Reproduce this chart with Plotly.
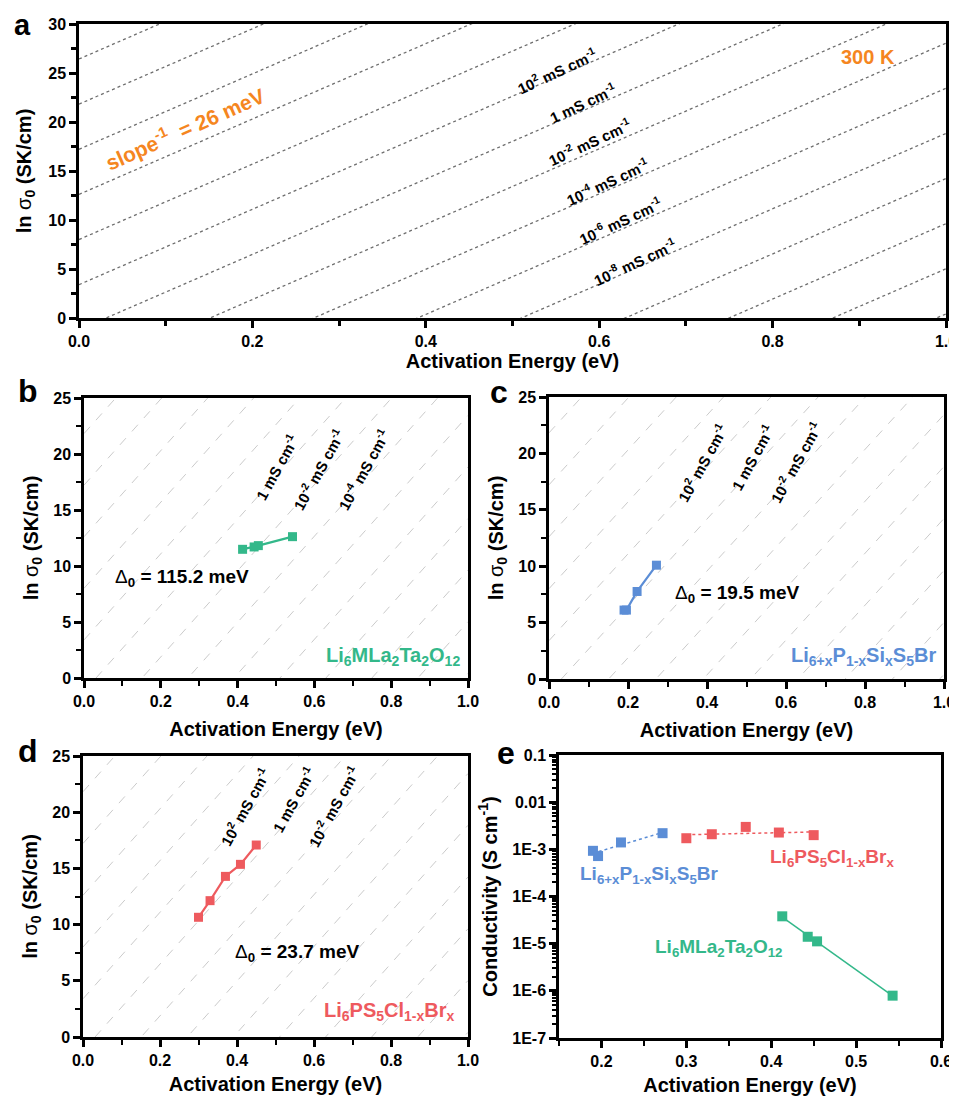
import numpy as np
import plotly.graph_objects as go

# ---------------- data ----------------
# Li6MLa2Ta2O12 (garnet)
ea_llzo = [0.413, 0.443, 0.454, 0.543]
lns0_llzo = [11.49, 11.70, 11.82, 12.62]
sigma_llzo = [3.8e-5, 1.4e-5, 1.12e-5, 7.9e-7]

# Li6+xP1-xSixS5Br
ea_lpssb = [0.190, 0.196, 0.223, 0.272]
lns0_lpssb = [6.11, 6.11, 7.76, 10.09]
sigma_lpssb = [9.3e-4, 7.2e-4, 1.4e-3, 2.2e-3]

# Li6PS5Cl1-xBrx
ea_lpscb = [0.300, 0.330, 0.370, 0.409, 0.450]
lns0_lpscb = [10.65, 12.13, 14.29, 15.36, 17.08]
sigma_lpscb = [1.72e-3, 2.09e-3, 2.99e-3, 2.27e-3, 2.0e-3]

# iso-conductivity lines (exponent of mS/cm), T = 300 K, slope^-1 = 26 meV
iso_exponents = [-16, -14, -12, -10, -8, -6, -4, -2, 0, 2, 4, 6, 8, 10, 12]
temperature = 300.0
kT_eV = 0.026

e_tickvals = [1e-1, 1e-2, 1e-3, 1e-4, 1e-5, 1e-6, 1e-7]
e_ticktext = ["0.1", "0.01", "1E-3", "1E-4", "1E-5", "1E-6", "1E-7"]

# ---------------- colours / fonts ----------------
GREEN = "#33B88A"
BLUE = "#5B8DD6"
RED = "#EE5A5E"
ORANGE = "#F5861F"
FONT = "Liberation Sans, Arial, sans-serif"

# page body has an 8px margin: the figure starts at (8, 8) in the window
OFF = 8
W, H = 957, 1098


def px2paper_x(px):
    return (px - OFF) / W


def px2paper_y(py):
    return 1 - (py - OFF) / H


def iso_intercept(k):
    sigma_S = 10.0 ** k * 1e-3
    return np.log(sigma_S * temperature)


fig = go.Figure()

# ---------- iso lines ----------
panels_iso = [("x", "y", "#6e6e6e", "dot", 1.3),
              ("x2", "y2", "#c4c4c4", "dash", 0.9),
              ("x3", "y3", "#c4c4c4", "dash", 0.9),
              ("x4", "y4", "#c4c4c4", "dash", 0.9)]
for xa, ya, col, dash, lw in panels_iso:
    for k in iso_exponents:
        b = iso_intercept(k)
        xs = [0.0, 1.0]
        ys = [b + x / kT_eV for x in xs]
        fig.add_trace(go.Scatter(x=xs, y=ys, mode="lines", xaxis=xa, yaxis=ya,
                                 line=dict(color=col, width=lw, dash=dash),
                                 showlegend=False, hoverinfo="skip"))

# ---------- panel b, c, d data ----------
for xa, ya, xs, ys, col in [("x2", "y2", ea_llzo, lns0_llzo, GREEN),
                             ("x3", "y3", ea_lpssb, lns0_lpssb, BLUE),
                             ("x4", "y4", ea_lpscb, lns0_lpscb, RED)]:
    fig.add_trace(go.Scatter(x=xs, y=ys, mode="lines+markers", xaxis=xa, yaxis=ya,
                             line=dict(color=col, width=2.2),
                             marker=dict(symbol="square", size=9, color=col),
                             showlegend=False))

# ---------- panel e ----------
for xs, ys, col, dash in [(ea_lpssb, sigma_lpssb, BLUE, "dot"),
                          (ea_lpscb, sigma_lpscb, RED, "dot"),
                          (ea_llzo, sigma_llzo, GREEN, "solid")]:
    p = np.polyfit(xs, np.log10(ys), 1)
    fx = np.array([min(xs), max(xs)])
    fy = 10 ** np.polyval(p, fx)
    fig.add_trace(go.Scatter(x=fx, y=fy, mode="lines", xaxis="x5", yaxis="y5",
                             line=dict(color=col, width=1.5, dash=dash),
                             showlegend=False, hoverinfo="skip"))
    fig.add_trace(go.Scatter(x=xs, y=ys, mode="markers", xaxis="x5", yaxis="y5",
                             marker=dict(symbol="square", size=10, color=col),
                             showlegend=False))

# ---------- axes ----------
tickfont = dict(family=FONT, size=16, color="black", weight="bold")
titlefont = dict(family=FONT, size=20, color="black", weight="bold")


def ax_common():
    return dict(showline=True, linewidth=2.5, linecolor="black", mirror=True,
                ticks="outside", ticklen=7, tickwidth=2.5, tickcolor="black",
                showgrid=False, zeroline=False, tickfont=tickfont, automargin=False,
                ticklabeloverflow="allow")


XTITLE = "Activation Energy (eV)"
YTITLE = "ln <span style='font-weight:normal'>σ</span><sub>0</sub> (SK/cm)"

domains = {
    "a": ([79, 946], [24, 318]),
    "b": ([84, 468], [398, 678]),
    "c": ([549, 944], [397, 679]),
    "d": ([83, 468], [756, 1037]),
    "e": ([559, 941], [755, 1038]),
}


def dom(key):
    (x0, x1), (y0, y1) = domains[key]
    return [px2paper_x(x0), px2paper_x(x1)], [px2paper_y(y1), px2paper_y(y0)]


layout = dict(width=W, height=H, margin=dict(l=0, r=0, t=0, b=0, autoexpand=False),
              paper_bgcolor="white", plot_bgcolor="white", showlegend=False)

# panel a
dx, dy = dom("a")
layout["xaxis"] = dict(ax_common(), domain=dx, range=[0, 1], anchor="y", dtick=0.2, tick0=0,
                       tickformat=".1f", minor=dict(dtick=0.1, ticks="outside", ticklen=5, tickwidth=2.5, tickcolor="black"),
                       title=dict(text=XTITLE, font=titlefont, standoff=4))
layout["yaxis"] = dict(ax_common(), domain=dy, range=[0, 30], anchor="x", dtick=5,
                       minor=dict(dtick=2.5, ticks="outside", ticklen=5, tickwidth=2.5, tickcolor="black"),
                       title=dict(text=YTITLE, font=titlefont, standoff=12))

for i, key in zip([2, 3, 4], ["b", "c", "d"]):
    dx, dy = dom(key)
    layout[f"xaxis{i}"] = dict(ax_common(), domain=dx, range=[0, 1], anchor=f"y{i}", dtick=0.2, tick0=0,
                               tickformat=".1f",
                               minor=dict(dtick=0.1, ticks="outside", ticklen=5, tickwidth=2, tickcolor="black"),
                               title=dict(text=XTITLE, font=titlefont, standoff=14 if i < 4 else 10))
    layout[f"yaxis{i}"] = dict(ax_common(), domain=dy, range=[0, 25], anchor=f"x{i}", dtick=5,
                               minor=dict(dtick=2.5, ticks="outside", ticklen=5, tickwidth=2, tickcolor="black"),
                               title=dict(text=YTITLE, font=titlefont, standoff=10))

dx, dy = dom("e")
layout["xaxis5"] = dict(ax_common(), domain=dx, range=[0.15, 0.6], anchor="y5", dtick=0.1, tick0=0,
                        tickformat=".1f",
                        minor=dict(dtick=0.05, tick0=0, ticks="outside", ticklen=5, tickwidth=2, tickcolor="black"),
                        title=dict(text=XTITLE, font=titlefont, standoff=10))
layout["yaxis5"] = dict(ax_common(), domain=dy, type="log", range=[-7, -1], anchor="x5",
                        tickvals=e_tickvals, ticktext=e_ticktext,
                        minor=dict(ticks="outside", ticklen=4, tickwidth=1.5, tickcolor="black", dtick="D1"),
                        title=dict(text="Conductivity (S cm<sup>-1</sup>)", font=titlefont, standoff=10))

# ---------- annotations ----------
ann = []


def txt(text, x, y, xref, yref, size=18, color="black", angle=0, xanchor="center", yanchor="middle", bold=True):
    ann.append(dict(text=text, x=x, y=y, xref=xref, yref=yref, showarrow=False,
                    textangle=angle, xanchor=xanchor, yanchor=yanchor,
                    font=dict(family=FONT, size=size, color=color, weight="bold" if bold else "normal")))


# panel letters
for letter, px, py, sz in [("a", 22, 25, 29), ("b", 28, 391, 32), ("c", 499, 392, 32),
                           ("d", 28, 751, 32), ("e", 506, 753, 32)]:
    txt(letter, px2paper_x(px), px2paper_y(py), "paper", "paper", size=sz)

# panel a labels
a_labels = ["10<sup>2</sup> mS cm<sup>-1</sup>", "1 mS cm<sup>-1</sup>", "10<sup>-2</sup> mS cm<sup>-1</sup>",
            "10<sup>-4</sup> mS cm<sup>-1</sup>", "10<sup>-6</sup> mS cm<sup>-1</sup>", "10<sup>-8</sup> mS cm<sup>-1</sup>"]
a_pos = [(0.551, 25.3), (0.581, 22.0), (0.589, 18.0), (0.609, 13.9), (0.624, 9.9), (0.641, 5.8)]
for t, (x, y) in zip(a_labels, a_pos):
    txt(t, x, y, "x", "y", size=15, angle=-25)
txt("300 K", 0.91, 26.6, "x", "y", size=20, color=ORANGE)
txt("slope<sup>-1</sup>  = 26 meV", 0.122, 19.4, "x", "y", size=21, color=ORANGE, angle=-24)

# panel b
b_labels = ["1 mS cm<sup>-1</sup>", "10<sup>-2</sup> mS cm<sup>-1</sup>", "10<sup>-4</sup> mS cm<sup>-1</sup>"]
b_pos = [(0.50, 18.8), (0.61, 18.6), (0.727, 18.6)]
for t, (x, y) in zip(b_labels, b_pos):
    txt(t, x, y, "x2", "y2", size=15, angle=-61)
txt("<span style='font-weight:normal'>Δ</span><sub>0</sub> = 115.2 meV", 0.255, 8.9, "x2", "y2", size=19)
txt("Li<sub>6</sub>MLa<sub>2</sub>Ta<sub>2</sub>O<sub>12</sub>", 0.985, 1.9, "x2", "y2", size=20, color=GREEN, xanchor="right")

# panel c
c_labels = ["10<sup>2</sup> mS cm<sup>-1</sup>", "1 mS cm<sup>-1</sup>", "10<sup>-2</sup> mS cm<sup>-1</sup>"]
c_pos = [(0.387, 19.2), (0.514, 19.6), (0.623, 19.2)]
for t, (x, y) in zip(c_labels, c_pos):
    txt(t, x, y, "x3", "y3", size=15, angle=-61)
txt("<span style='font-weight:normal'>Δ</span><sub>0</sub> = 19.5 meV", 0.476, 7.5, "x3", "y3", size=19)
txt("Li<sub>6+x</sub>P<sub>1-x</sub>Si<sub>x</sub>S<sub>5</sub>Br", 0.985, 2.0, "x3", "y3", size=20, color=BLUE, xanchor="right")

# panel d
d_labels = ["10<sup>2</sup> mS cm<sup>-1</sup>", "1 mS cm<sup>-1</sup>", "10<sup>-2</sup> mS cm<sup>-1</sup>"]
d_pos = [(0.42, 20.5), (0.546, 21.1), (0.65, 20.5)]
for t, (x, y) in zip(d_labels, d_pos):
    txt(t, x, y, "x4", "y4", size=15, angle=-61)
txt("<span style='font-weight:normal'>Δ</span><sub>0</sub> = 23.7 meV", 0.556, 7.5, "x4", "y4", size=19)
txt("Li<sub>6</sub>PS<sub>5</sub>Cl<sub>1-x</sub>Br<sub>x</sub>", 0.972, 2.3, "x4", "y4", size=20, color=RED, xanchor="right")

# panel e
txt("Li<sub>6+x</sub>P<sub>1-x</sub>Si<sub>x</sub>S<sub>5</sub>Br", 0.2566, -3.55, "x5", "y5", size=19, color=BLUE)
txt("Li<sub>6</sub>PS<sub>5</sub>Cl<sub>1-x</sub>Br<sub>x</sub>", 0.472, -3.19, "x5", "y5", size=19, color=RED)
txt("Li<sub>6</sub>MLa<sub>2</sub>Ta<sub>2</sub>O<sub>12</sub>", 0.338, -5.09, "x5", "y5", size=19, color=GREEN)

layout["annotations"] = ann
fig.update_layout(**layout)

fig.write_html("out.html")
